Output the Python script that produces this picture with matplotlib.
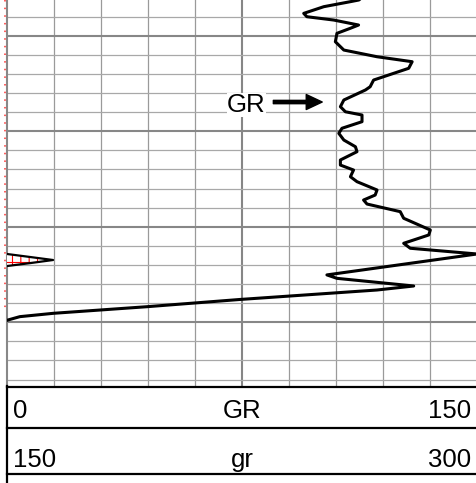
import numpy as np
import matplotlib.pyplot as plt
from matplotlib.transforms import offset_copy

plt.rcParams['font.family'] = ['Liberation Sans', 'DejaVu Sans']
plt.rcParams['hatch.color'] = 'red'
plt.rcParams['hatch.linewidth'] = 0.8

# gamma ray log (depth in m, GR in API)
depth = [1295.74, 1296.26, 1296.44, 1296.96, 1297.66, 1298.01, 1298.36, 1298.88,
         1299.23, 1299.75, 1300.63, 1301.50, 1302.20, 1302.72, 1303.41, 1304.64,
         1305.34, 1305.68, 1306.73, 1307.43, 1307.96, 1308.30, 1309.00, 1309.69,
         1310.22, 1310.92, 1311.62, 1312.14, 1313.01, 1313.54, 1314.06, 1314.76,
         1315.28, 1316.15, 1316.68, 1317.20, 1317.62, 1318.42, 1319.11, 1320.34,
         1320.86, 1321.73, 1322.25, 1322.85, 1323.17, 1323.48, 1323.80, 1324.11,
         1325.04, 1325.40, 1326.20, 1326.62, 1327.61, 1328.37, 1329.06, 1329.41,
         1329.76, 1330.30, 1337.60]
gr_api = [114.3, 112.3, 109.5, 101.1, 94.7, 95.7, 104.3, 112.2,
          109.5, 105.3, 104.8, 107.5, 118.1, 129.3, 128.2, 117.0,
          115.9, 114.4, 107.5, 106.4, 108.0, 113.3, 113.3, 106.9,
          105.9, 107.5, 111.2, 111.7, 106.4, 106.4, 110.6, 109.6,
          111.7, 118.1, 117.5, 113.8, 114.9, 125.5, 126.6, 135.1,
          134.6, 126.6, 128.7, 150.0, 157.5, 164.7, 157.5, 150.0,
          102.1, 105.3, 129.8, 118.1, 74.4, 44.6, 14.8, 4.1,
          0.3, -4.0, -6.0]

gr_scale = (0, 150)
backup_scale = (150, 300)
depth_top, depth_base = 1296.26, 1336.67
red_flag_base = 1329.0
label_depth = 1307.96
arrow_tail, arrow_tip, arrow_depth = 85.0, 100.6, 1306.94

header_rows = [(str(gr_scale[0]), 'GR', str(gr_scale[1])),
               (str(backup_scale[0]), 'gr', str(backup_scale[1]))]

depth = np.array(depth)
gr_api = np.array(gr_api)

fig = plt.figure(figsize=(4.77, 4.83), dpi=100)
ax = fig.add_axes([7/477, 97/483, 470/477, 386/483])
ax.set_xlim(*gr_scale)
ax.set_ylim(depth_base, depth_top)
ax.set_xticks([])
ax.set_yticks([])
for s in ['top', 'right', 'bottom']:
    ax.spines[s].set_visible(False)
ax.spines['left'].set_color('#888888')
ax.spines['left'].set_linewidth(1.5)

# grid
for x in np.arange(15, 150, 15):
    if x == 75:
        ax.axvline(x, color='#868686', lw=1.5, zorder=1)
    else:
        ax.axvline(x, color='#9a9a9a', lw=0.9, zorder=1)
for d in np.arange(1296, 1338, 2):
    if d % 10 == 0:
        ax.axhline(d, color='#878787', lw=1.5, zorder=1)
    else:
        ax.axhline(d, color='#a8a8a8', lw=0.9, zorder=1)

# red flag along the left edge
red_tr = offset_copy(ax.transData, fig, x=-1.5, y=0, units='dots')
ax.plot([0, 0], [depth_top, red_flag_base], color='#ff3030', lw=1.1,
        linestyle=(0, (1.0, 4.0)), transform=red_tr, clip_on=False, zorder=2)

# main GR curve
ax.plot(gr_api, depth, color='black', lw=2.2, zorder=4,
        solid_joinstyle='round', solid_capstyle='round')

# backup curve (150-300) with hatched wrap-around
ax2 = ax.twiny()
ax2.set_xlim(*backup_scale)
ax2.set_ylim(depth_base, depth_top)
ax2.set_xticks([])
ax2.set_yticks([])
for s in ax2.spines.values():
    s.set_visible(False)
over = gr_api >= backup_scale[0]
ax2.fill_betweenx(depth, backup_scale[0], gr_api, where=over, hatch='++',
                  facecolor='white', edgecolor='red', linewidth=0, zorder=2)
ax2.plot(np.where(over, gr_api, np.nan), depth, color='black', lw=1.6, zorder=3)

# curve label with arrow
ax.text(82.5, label_depth, 'GR', ha='right', va='baseline', fontsize=18.5,
        zorder=5, bbox=dict(facecolor='white', edgecolor='none', pad=0))
ax.annotate('', xy=(arrow_tip, arrow_depth), xytext=(arrow_tail, arrow_depth),
            arrowprops=dict(facecolor='black', edgecolor='black', width=2.4,
                            headwidth=10.8, headlength=11.5, shrink=0),
            zorder=5)

# header
hdr = fig.add_axes([7/477, 0, 470/477, 97/483])
hdr.set_xlim(0, 150)
hdr.set_ylim(97, 0)
hdr.set_xticks([])
hdr.set_yticks([])
for s in ['top', 'right', 'bottom']:
    hdr.spines[s].set_visible(False)
hdr.spines['left'].set_color('black')
hdr.spines['left'].set_linewidth(1.6)
for y in [0.5, 42.3, 88.3]:
    hdr.axhline(y, color='black', lw=1.6, clip_on=False)
for (left, mid, right), yb in zip(header_rows, [31.7, 80.7]):
    hdr.text(2.0, yb, left, ha='left', va='baseline', fontsize=18.5)
    hdr.text(75, yb, mid, ha='center', va='baseline', fontsize=18.5)
    hdr.text(148.1, yb, right, ha='right', va='baseline', fontsize=18.5)

fig.savefig('out.png', dpi=100)
